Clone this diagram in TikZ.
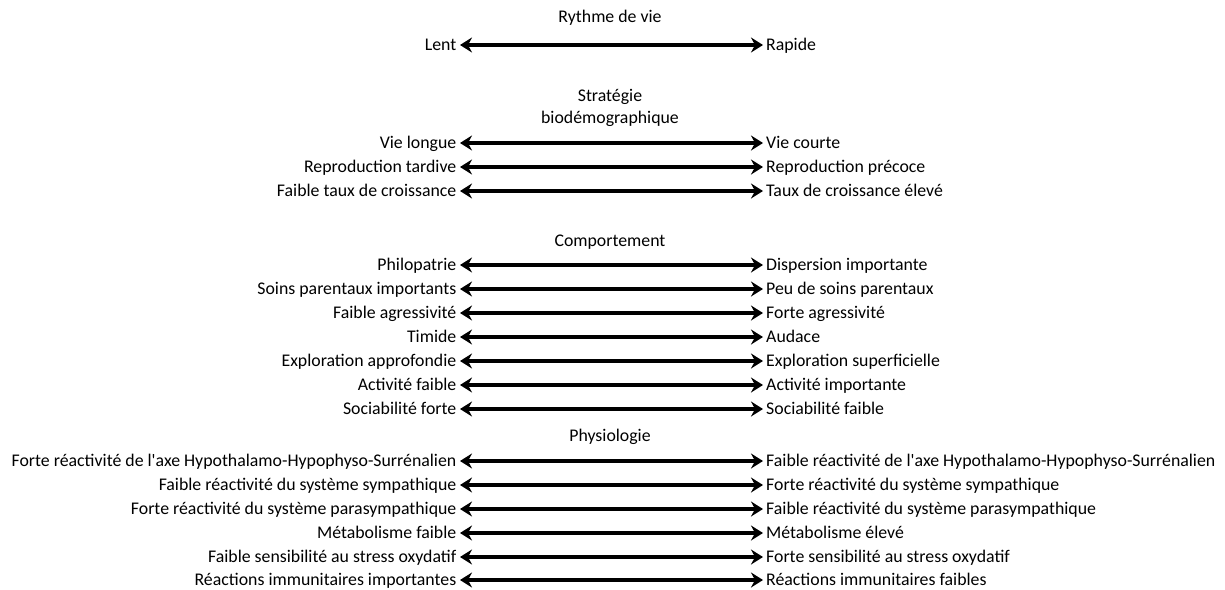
\documentclass[tikz,border=0pt]{standalone}
\usepackage{fontspec}
\setmainfont{Carlito}[Ligatures=TeXOff]
\usetikzlibrary{arrows.meta}

\begin{document}
\begin{tikzpicture}[
  x=1pt, y=-1pt,
  font=\fontsize{17.8}{22}\selectfont,
  lt/.style={anchor=east, inner sep=3.5pt, text height=11.5pt, text depth=0pt},
  rt/.style={anchor=west, inner sep=3pt, text height=11.5pt, text depth=0pt},
  ttl/.style={align=center, inner sep=0pt},
  arr/.style={{Stealth[length=12pt,width=15pt,inset=4pt]}-{Stealth[length=12pt,width=15pt,inset=4pt]}, line width=3.2pt},
]
\useasboundingbox (0,0) rectangle (1225,589);

\node[ttl] (tRythme) at (610,18) {Rythme de vie};
\node[lt] (lLent) at (460,45) {Lent};
\node[rt] (rLent) at (763,45) {Rapide};
\draw[arr] (lLent) -- (rLent);

\node[ttl] (tStrat) at (610,108) {Stratégie\\biodémographique};
\node[lt] (lVie) at (460,143) {Vie longue};
\node[rt] (rVie) at (763,143) {Vie courte};
\node[lt] (lRepro) at (460,167) {Reproduction tardive};
\node[rt] (rRepro) at (763,167) {Reproduction précoce};
\node[lt] (lTaux) at (460,191) {Faible taux de croissance};
\node[rt] (rTaux) at (763,191) {Taux de croissance élevé};
\draw[arr] (lVie) -- (rVie);
\draw[arr] (lRepro) -- (rRepro);
\draw[arr] (lTaux) -- (rTaux);

\node[ttl] (tComp) at (610,242) {Comportement};
\node[lt] (lPhilo) at (460,265) {Philopatrie};
\node[rt] (rPhilo) at (763,265) {Dispersion importante};
\node[lt] (lSoins) at (460,289) {Soins parentaux importants};
\node[rt] (rSoins) at (763,289) {Peu de soins parentaux};
\node[lt] (lAgr) at (460,313) {Faible agressivité};
\node[rt] (rAgr) at (763,313) {Forte agressivité};
\node[lt] (lTim) at (460,337) {Timide};
\node[rt] (rTim) at (763,337) {Audace};
\node[lt] (lExpl) at (460,361) {Exploration approfondie};
\node[rt] (rExpl) at (763,361) {Exploration superficielle};
\node[lt] (lAct) at (460,385) {Activité faible};
\node[rt] (rAct) at (763,385) {Activité importante};
\node[lt] (lSoc) at (460,409) {Sociabilité forte};
\node[rt] (rSoc) at (763,409) {Sociabilité faible};
\draw[arr] (lPhilo) -- (rPhilo);
\draw[arr] (lSoins) -- (rSoins);
\draw[arr] (lAgr) -- (rAgr);
\draw[arr] (lTim) -- (rTim);
\draw[arr] (lExpl) -- (rExpl);
\draw[arr] (lAct) -- (rAct);
\draw[arr] (lSoc) -- (rSoc);

\node[ttl] (tPhys) at (610,437) {Physiologie};
\node[lt] (lHHS) at (460,461) {Forte réactivité de l'axe Hypothalamo-Hypophyso-Surrénalien};
\node[rt] (rHHS) at (763,461) {Faible réactivité de l'axe Hypothalamo-Hypophyso-Surrénalien};
\node[lt] (lSymp) at (460,485) {Faible réactivité du système sympathique};
\node[rt] (rSymp) at (763,485) {Forte réactivité du système sympathique};
\node[lt] (lPara) at (460,509) {Forte réactivité du système parasympathique};
\node[rt] (rPara) at (763,509) {Faible réactivité du système parasympathique};
\node[lt] (lMet) at (460,533) {Métabolisme faible};
\node[rt] (rMet) at (763,533) {Métabolisme élevé};
\node[lt] (lOx) at (460,557) {Faible sensibilité au stress oxydatif};
\node[rt] (rOx) at (763,557) {Forte sensibilité au stress oxydatif};
\node[lt] (lImm) at (460,580) {Réactions immunitaires importantes};
\node[rt] (rImm) at (763,580) {Réactions immunitaires faibles};
\draw[arr] (lHHS) -- (rHHS);
\draw[arr] (lSymp) -- (rSymp);
\draw[arr] (lPara) -- (rPara);
\draw[arr] (lMet) -- (rMet);
\draw[arr] (lOx) -- (rOx);
\draw[arr] (lImm) -- (rImm);
\end{tikzpicture}
\end{document}
